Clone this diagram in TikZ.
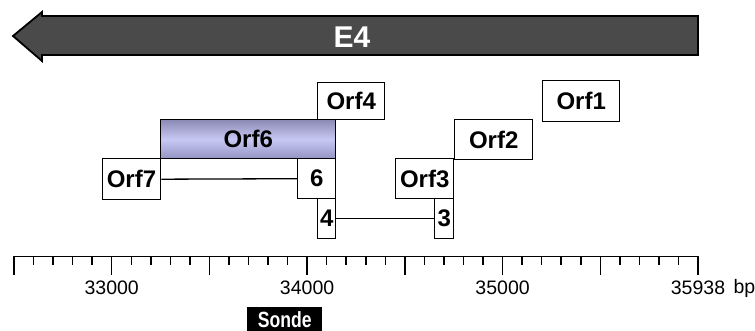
\documentclass[tikz,border=0pt]{standalone}
\usepackage{fontspec}
\setmainfont{Liberation Sans}
\definecolor{arrowgray}{HTML}{4A4A4A}
\definecolor{lavtop}{HTML}{8A8AB4}
\definecolor{lavmid}{HTML}{C8C8F4}
\definecolor{lavbot}{HTML}{9494C4}
\begin{document}
\begin{tikzpicture}[x=1pt,y=-1pt,
  orfbox/.style={draw=black, line width=1.4pt, fill=white, inner sep=0pt, anchor=north west,
    font=\fontsize{24}{26}\selectfont\bfseries},
  axlab/.style={inner sep=0pt, font=\fontsize{19.5}{21}\selectfont},
  connector/.style={draw=black, line width=1.3pt},
  tickline/.style={line width=1.5pt}
]
\useasboundingbox (0,0) rectangle (755,331);

% E4 arrow
\draw[line width=1.8pt, fill=arrowgray, line join=miter]
  (698,16) -- (42,16) -- (42,12) -- (13,36) -- (42,61) -- (42,55) -- (698,55) -- cycle;
\node[text=white, font=\fontsize{30}{32}\selectfont\bfseries] (e4) at (352,37) {E4};

% ORF boxes
\node[orfbox, minimum width=67pt, minimum height=37pt] (orf4) at (317,82) {Orf4};
\node[orfbox, minimum width=77pt, minimum height=41pt] (orf1) at (542,80) {Orf1};
\node[orfbox, minimum width=175pt, minimum height=39pt, fill=none,
  top color=lavtop, bottom color=lavbot, middle color=lavmid] (orf6) at (160,119) {Orf6};
\node[orfbox, minimum width=78pt, minimum height=40pt] (orf2) at (454,119) {Orf2};
\node[orfbox, minimum width=58.5pt, minimum height=41pt] (orf7) at (101.5,158) {Orf7};
\node[orfbox, minimum width=38pt, minimum height=40pt] (b6) at (297,158) {6};
\node[orfbox, minimum width=58pt, minimum height=40pt] (orf3) at (395,158) {Orf3};
\node[orfbox, minimum width=18pt, minimum height=40pt] (b4) at (317,198) {4};
\node[orfbox, minimum width=19pt, minimum height=40pt] (b3) at (434,198) {3};

% connectors
\draw[connector] (orf7.east) -- (b6.west);
\draw[connector] (b4.east) -- (b3.west);

% scale axis
\coordinate (axl) at (14,256.5);
\coordinate (axr) at (698,256.5);
\draw[tickline] (axl) -- (axr);
\foreach \i in {0,...,35}{
  \pgfmathsetmacro{\xx}{14+\i*19.543}
  \pgfmathtruncatemacro{\mm}{mod(\i,5)}
  \ifnum\mm=0
    \draw[tickline] (\xx,255.8) -- (\xx,275);
  \else
    \draw[tickline] (\xx,255.8) -- (\xx,265);
  \fi
}
\node[axlab] (l1) at (111.7,288) {33000};
\node[axlab] (l2) at (307.1,288) {34000};
\node[axlab] (l3) at (502.6,288) {35000};
\node[axlab] (l4) at (698,288) {35938};
\node[axlab, anchor=west] (bp) at ([xshift=8pt]l4.east) {bp};

% probe
\node[fill=black, text=white, inner sep=0pt, minimum width=75pt, minimum height=24pt,
  anchor=north west, font=\fontsize{22}{24}\selectfont\bfseries] (sonde) at (247,307)
  {\scalebox{0.8}[1]{Sonde}};
\end{tikzpicture}
\end{document}
